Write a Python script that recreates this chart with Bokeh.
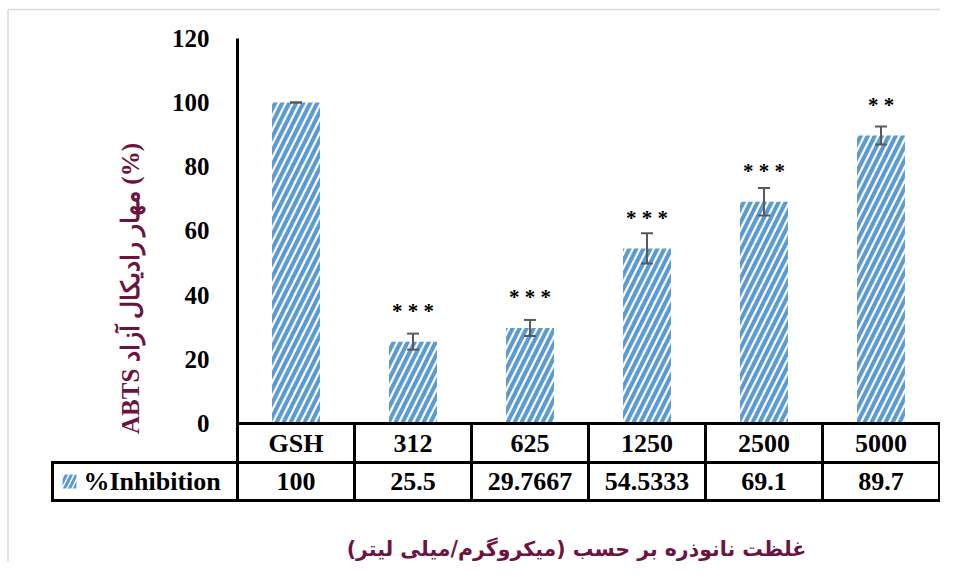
from math import pi
from bokeh.plotting import figure
from bokeh.models import Range1d, FixedTicker, ColumnDataSource, Whisker, TeeHead
from bokeh.core.properties import value
from bokeh.embed import file_html
from bokeh.resources import INLINE

# ---- data ----
categories = ["GSH", "312", "625", "1250", "2500", "5000"]
inhibition = [100, 25.5, 29.7667, 54.5333, 69.1, 89.7]
errors = [0, 2.5, 2.5, 4.7, 4.3, 2.8]
significance = ["", "***", "***", "***", "***", "**"]
y_ticks = [0, 20, 40, 60, 80, 100, 120]
series_name = "%Inhibition"
y_title = "ABTS مهار رادیکال آزاد (%)"
x_title = "\u200fغلظت نانوذره بر حسب (میکروگرم/میلی لیتر)\u200f"

# ---- layout constants ----
W, H = 940, 562
PX_X = 117.0          # pixels per category column
PX_Y = 3.21           # pixels per y unit
X0 = -295.5 / PX_X
Y1 = 423 / PX_Y
MAROON = "#6E1340"
BLUE = "#5B9BD5"
SERIF = "Liberation Serif"

n = len(categories)
xs = list(range(n))

p = figure(width=W, height=H,
           x_range=Range1d(X0, X0 + W / PX_X),
           y_range=Range1d(Y1 - H / PX_Y, Y1),
           output_backend="svg", toolbar_location=None,
           min_border=0)
p.outline_line_color = None
p.background_fill_color = "white"
p.border_fill_color = "white"
p.xgrid.visible = False
p.ygrid.visible = False
p.xaxis.visible = False

ax = p.yaxis[0]
ax.fixed_location = -0.5
ax.bounds = (0, 120)
ax.ticker = FixedTicker(ticks=y_ticks)
ax.axis_line_width = 3
ax.axis_line_color = "black"
ax.major_tick_line_color = None
ax.minor_tick_line_color = None
ax.major_label_text_font = SERIF
ax.major_label_text_font_size = "25px"
ax.major_label_text_font_style = "bold"
ax.major_label_text_color = "black"
ax.major_label_standoff = 22

src = ColumnDataSource(dict(
    x=xs,
    top=inhibition,
    upper=[v + e for v, e in zip(inhibition, errors)],
    lower=[v - e for v, e in zip(inhibition, errors)],
    star_y=[v + 9.5 for v in inhibition],
    stars=[" ".join(s) for s in significance],
    cat=categories,
    label=[f"{v:g}" for v in inhibition],
))

hatch = dict(fill_color="white", line_color=None, hatch_pattern="/",
             hatch_color=BLUE, hatch_scale=14, hatch_weight=4)

p.vbar(x="x", top="top", width=0.41, source=src, **hatch)

head = dict(size=12, line_color="#595959", line_width=2)
p.add_layout(Whisker(source=src, base="x", upper="upper", lower="lower",
                     line_color="#595959", line_width=2, level="overlay",
                     upper_head=TeeHead(**head), lower_head=TeeHead(**head)))

p.text(x="x", y="star_y", text="stars", source=src, text_align="center",
       text_baseline="middle", text_font=value(SERIF), text_font_style="bold",
       text_font_size="21px", text_color="black")

# ---- data table under the plot ----
r0 = 0.0
r1 = -(462 - 423) / PX_Y
r2 = -(500 - 423) / PX_Y
left = (52 - 295.5) / PX_X
right = n - 0.5
edges = [i - 0.5 for i in range(n + 1)]

sx0 = [-0.5, left, left] + edges + [left]
sx1 = [right, right, right] + edges + [left]
sy0 = [r0, r1, r2] + [r0] * len(edges) + [r1]
sy1 = [r0, r1, r2] + [r2] * len(edges) + [r2]
p.segment(x0=sx0, y0=sy0, x1=sx1, y1=sy1, line_color="black", line_width=3,
          line_cap="square")

tfont = dict(text_font=value(SERIF), text_font_style="bold", text_font_size="26px",
             text_color="black", text_baseline="middle")
p.text(x="x", y=(r0 + r1) / 2, text="cat", source=src, text_align="center", **tfont)
p.text(x="x", y=(r1 + r2) / 2, text="label", source=src, text_align="center", **tfont)

p.rect(x=[(69 - 295.5) / PX_X], y=[(r1 + r2) / 2], width=14 / PX_X, height=14 / PX_Y,
       **dict(hatch, hatch_scale=10, hatch_weight=3))
p.text(x=[(83 - 295.5) / PX_X], y=[(r1 + r2) / 2], text=[series_name],
       text_align="left", **tfont)

# ---- titles ----
p.text(x=[(130 - 295.5) / PX_X], y=[(423 - 288) / PX_Y], text=[y_title], angle=pi / 2,
       text_align="center", text_baseline="middle", text_font=value(SERIF),
       text_font_style="bold", text_font_size="25px", text_color=MAROON)
p.text(x=[(576 - 295.5) / PX_X], y=[(423 - 548) / PX_Y], text=[x_title],
       text_align="center", text_baseline="middle", text_font=value("DejaVu Sans"),
       text_font_style="bold", text_font_size="20.5px", text_color=MAROON)

# ---- chart-area border (left and top edges) ----
xr, yr = p.x_range, p.y_range
bx = xr.start + 7.5 / PX_X
by = yr.end - 9 / PX_Y
p.segment(x0=[bx, bx], y0=[yr.start, by], x1=[bx, xr.end], y1=[by, by],
          line_color="#D9D9D9", line_width=1.5)

open("out.html", "w").write(file_html(p, INLINE))
